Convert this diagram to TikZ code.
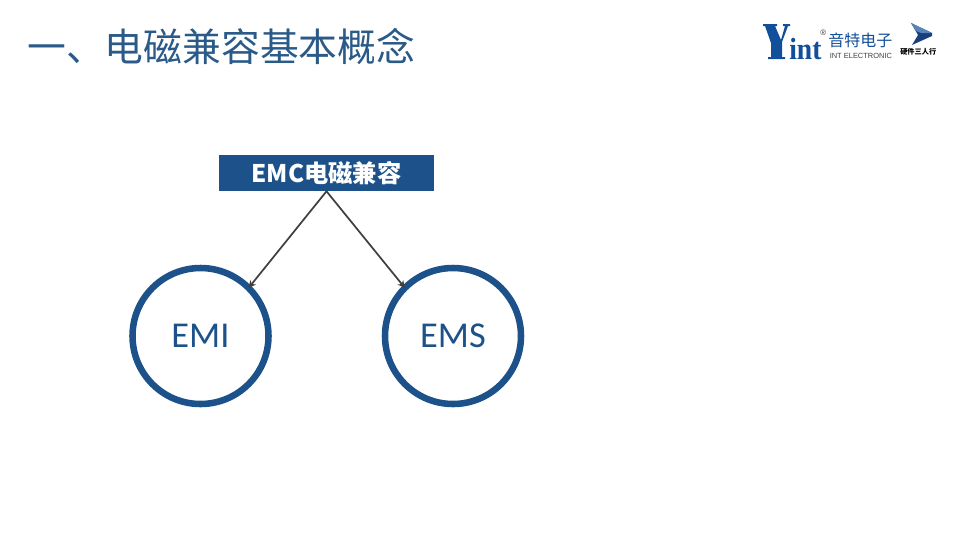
\documentclass[tikz,border=0pt]{standalone}
\usepackage{fontspec}
\usepackage{graphicx}
\setmainfont{Liberation Sans}
\newfontfamily\cjk{Noto Sans CJK SC}
\newfontfamily\lat{Carlito}
\newfontfamily\lserif{Liberation Serif}
\definecolor{mainblue}{HTML}{1C5289}
\definecolor{titleblue}{HTML}{2A5A88}
\definecolor{arrowgrey}{HTML}{404040}
\definecolor{logoblue}{HTML}{114F9B}
\definecolor{emblemdark}{HTML}{1B3F7A}
\usetikzlibrary{arrows.meta}
\tikzset{
 circ/.style={circle,draw=mainblue,line width=4.9pt,minimum size=102pt,outer sep=0pt,inner sep=0pt,text=mainblue,font=\lat\fontsize{27.3}{27.3}\selectfont},
 headbox/.style={fill=mainblue,text=white,minimum width=161.25pt,minimum height=27pt,inner sep=0pt,font=\cjk\bfseries\fontsize{18.2}{18.2}\selectfont},
 conn/.style={draw=arrowgrey,line width=1.3pt,-{Stealth[length=5.5pt,width=5.5pt]}},
 free/.style={inner sep=0pt,anchor=west},
}
\begin{document}
\begin{tikzpicture}[x=0.75pt,y=-0.75pt]
\useasboundingbox (0,0) rectangle (960,540);
\node[free,text=titleblue,font=\cjk\fontsize{29.1}{29.1}\selectfont] (title) at (27,46) {一、电磁兼容基本概念};
\node[headbox] (emc) at (326.5,173) {EMC电磁兼容};
\node[circ] (emi) at (200.5,336) {EMI};
\node[circ] (ems) at (453,336) {EMS};
\draw[conn] (emc.south) -- (emi.45);
\draw[conn] (emc.south) -- (ems.135);
% logo
\fill[logoblue] (763,24) -- (777,24) -- (777,26) -- (775,26) -- (781,40) -- (785,26) -- (783,26) -- (783,24) -- (790,24) -- (790,26) -- (788,26) -- (782,42) -- (782,57) -- (785,57) -- (785,59) -- (768,59) -- (768,57) -- (771,57) -- (771,43) -- (765,26) -- (763,26) -- cycle;
\node[inner sep=0pt,anchor=base west,text=logoblue] (yint) at (789,59) {\scalebox{0.9}[1]{\lserif\bfseries\fontsize{23}{23}\selectfont int}};
\node[free,text=arrowgrey,font=\fontsize{6}{6}\selectfont] (reg) at (820,33) {®};
\node[free,text=logoblue,font=\cjk\fontsize{12}{12}\selectfont] (cn) at (828,40) {音特电子};
\node[free,text=arrowgrey,font=\fontsize{5.6}{5.6}\selectfont] (en) at (829.5,56) {INT ELECTRONIC};
\fill[emblemdark] (911,23) -- (932,33) -- (932,36) -- (912,45) -- (918,35) -- cycle;
\fill[logoblue!70!white] (911,23) -- (932,33) -- (921,33) -- (916,31) -- cycle;
\node[free,text=black,font=\cjk\bfseries\fontsize{5.4}{5.4}\selectfont] (cn2) at (900,52) {硬件三人行};
\end{tikzpicture}
\end{document}
